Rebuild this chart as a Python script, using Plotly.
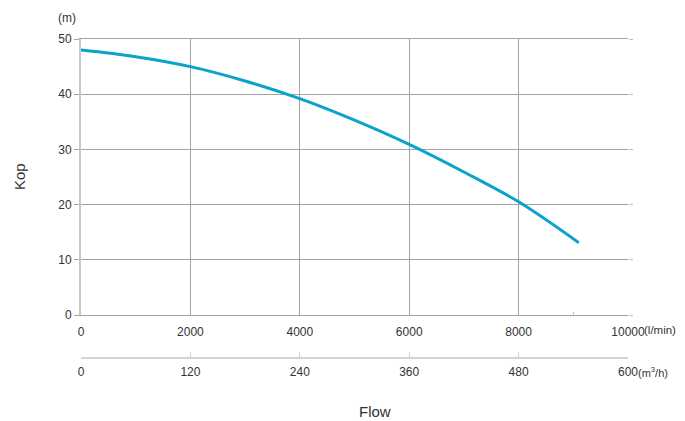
import plotly.graph_objects as go

# Data
flow_lmin = [0, 1000, 2000, 3000, 4000, 5000, 6000, 7000, 8000, 9100]
head_m = [48.0, 46.8, 45.0, 42.4, 39.2, 35.3, 30.9, 25.9, 20.5, 13.1]

x_ticks = [0, 2000, 4000, 6000, 8000, 10000]
x2_ticks = [0, 120, 240, 360, 480, 600]
y_ticks = [0, 10, 20, 30, 40, 50]

FONT = "Liberation Sans, Arial, sans-serif"
TXT = "#333333"
GRID = "#a3a3a3"

# the page body has an 8px default margin: compensate
OFF = 8
W, H = 685 - OFF, 421 - OFF
L, T, R, B = 81 - OFF, 39 - OFF, 57, 30 - OFF
PA_H = H - T - B
bottom_px = H - B  # in figure coords
ydom0 = (bottom_px - (315 - OFF)) / PA_H
x2pos = (bottom_px - (358 - OFF)) / PA_H

fig = go.Figure()
fig.add_trace(go.Scatter(
    x=flow_lmin, y=head_m, mode="lines",
    line=dict(color="#0aa3cb", width=3, shape="spline"),
    hoverinfo="skip", showlegend=False,
))
fig.add_trace(go.Scatter(x=[None], y=[None], yaxis="y2", showlegend=False))
fig.add_trace(go.Scatter(x=[None], y=[None], xaxis="x2", showlegend=False))

fig.update_layout(
    width=W, height=H,
    margin=dict(l=L, r=R, t=T, b=B, autoexpand=False),
    paper_bgcolor="white", plot_bgcolor="white",
    font=dict(family=FONT, size=12, color=TXT),
    xaxis=dict(
        range=[0, 10000], tickvals=x_ticks,
        ticktext=[str(v) for v in x_ticks],
        showgrid=True, gridcolor=GRID, gridwidth=1,
        showline=True, linecolor=GRID, linewidth=1, mirror=True,
        ticks="", zeroline=False, anchor="y",
        ticklabelstandoff=6,
        minor=dict(tickvals=[9000], ticks="inside",
                   ticklen=3, tickcolor="#c8c8c8", showgrid=False),
        tickfont=dict(size=12, color=TXT, family=FONT),
    ),
    xaxis2=dict(
        range=[0, 600], tickvals=x2_ticks,
        ticktext=[str(v) for v in x2_ticks],
        overlaying="x", anchor="free", position=x2pos, side="bottom",
        showgrid=False, zeroline=False,
        showline=True, linecolor="#d4d4d4", linewidth=2,
        ticks="inside", ticklen=5, tickcolor="#d4d4d4", tickwidth=1,
        ticklabelstandoff=3,
        tickfont=dict(size=12, color=TXT, family=FONT),
    ),
    yaxis=dict(
        range=[0, 50], tickvals=y_ticks, domain=[ydom0, 1],
        showgrid=True, gridcolor=GRID, gridwidth=1,
        showline=True, linecolor="#c8c8c8", linewidth=2,
        ticks="outside", ticklen=5, tickcolor=GRID,
        zeroline=False,
        tickfont=dict(size=12, color=TXT, family=FONT),
    ),
    yaxis2=dict(
        range=[0, 50], tickvals=y_ticks, overlaying="y", side="right",
        showgrid=False, showline=False, zeroline=False,
        ticks="outside", ticklen=4, tickcolor="#c0c0c0", showticklabels=False,
    ),
    annotations=[
        dict(text="(m)", xref="paper", yref="paper", x=0, y=1.0,
             xanchor="right", yanchor="middle", xshift=-3, yshift=21, showarrow=False,
             font=dict(size=12, color=TXT, family=FONT)),
        dict(text="Kop", xref="paper", yref="paper", x=0, y=(ydom0 + 1) / 2,
             textangle=-90, xanchor="center", yanchor="middle", xshift=-62,
             showarrow=False, font=dict(size=15, color=TXT, family=FONT)),
        dict(text="Flow", xref="paper", yref="paper", x=(375 - 81) / 547, y=0,
             xanchor="center", yanchor="middle", yshift=-(411 - 8 - (H - B)),
             showarrow=False, font=dict(size=15, color=TXT, family=FONT)),
        dict(text="(l/min)", xref="paper", yref="paper", x=1.0, y=ydom0,
             xanchor="left", yanchor="middle", xshift=14, yshift=-15, showarrow=False,
             font=dict(size=11.5, color=TXT, family=FONT)),
        dict(text="(m<sup>3</sup>/h)", xref="paper", yref="paper", x=1.0, y=x2pos,
             xanchor="left", yanchor="middle", xshift=8, yshift=-14, showarrow=False,
             font=dict(size=11, color=TXT, family=FONT)),
    ],
)

fig.write_html("out.html")
